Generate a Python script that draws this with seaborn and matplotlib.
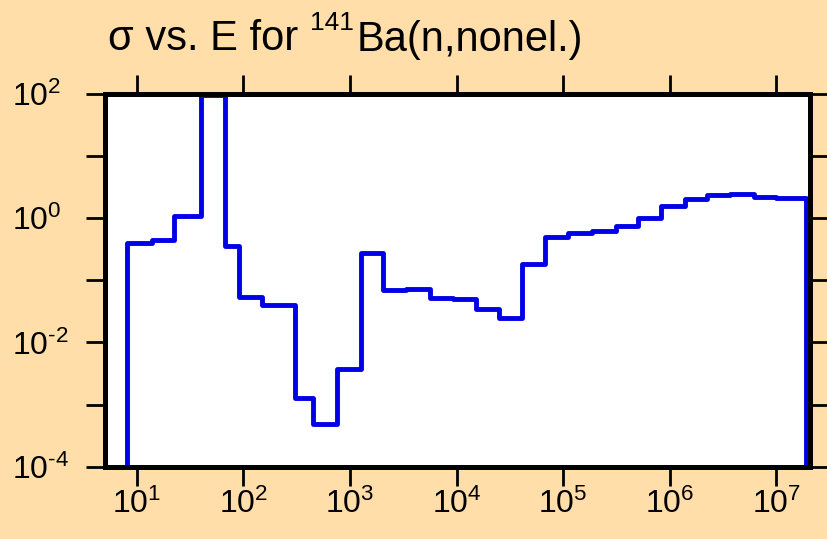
import numpy as np
import pandas as pd
import seaborn as sns
import matplotlib.pyplot as plt
from matplotlib.ticker import FixedLocator, NullLocator, FuncFormatter, NullFormatter

sns.set_style("ticks")
plt.rcParams['font.family'] = ['Liberation Sans', 'DejaVu Sans']
plt.rcParams['mathtext.fontset'] = 'custom'
plt.rcParams['mathtext.rm'] = 'Liberation Sans'
plt.rcParams['mathtext.it'] = 'Liberation Sans:italic'
plt.rcParams['mathtext.bf'] = 'Liberation Sans:bold'
plt.rcParams['text.color'] = 'black'

# group boundaries (eV) and cross sections (b)
edges = [8.2, 13.8, 22.6, 40.5, 68, 92, 149, 306, 454, 760, 1260, 2050, 3390,
         5600, 9200, 15200, 25000, 41000, 67800, 112000, 186000, 310000,
         505000, 830000, 1.38e6, 2.25e6, 3.7e6, 6.2e6, 1.0e7, 1.9e7]
sigma = [0.40, 0.45, 1.07, 95, 0.36, 0.054, 0.040, 1.28e-3, 4.8e-4, 3.7e-3,
         0.27, 0.071, 0.073, 0.052, 0.050, 0.035, 0.0245, 0.185, 0.50, 0.57,
         0.63, 0.76, 1.0, 1.55, 2.05, 2.38, 2.40, 2.2, 2.1]
floor = 1e-6  # stands for zero below the plot

x_ticks = [1e1, 1e2, 1e3, 1e4, 1e5, 1e6, 1e7]
y_major = [1e-4, 1e-2, 1e0, 1e2]
y_minor = [1e-3, 1e-1, 1e1]

data = pd.DataFrame({'E': [edges[0]] + edges,
                     'sigma': [floor] + sigma + [floor]})


def pow10(v, pos):
    e = int(round(np.log10(v)))
    ex = '\\text{-}%d' % -e if e < 0 else '%d' % e
    return '$\\mathregular{10^{%s}}$' % ex


bg = '#FFDEAA'
fig = plt.figure(figsize=(8.27, 5.39), dpi=100, facecolor=bg)
ax = fig.add_axes([0.127, 0.134, 0.852, 0.692])
ax.set_facecolor('white')
ax.set(xscale='log', yscale='log')

sns.lineplot(ax=ax, data=data, x='E', y='sigma', estimator=None, sort=False,
             drawstyle='steps-post', color='#0000E6', linewidth=3.5)

ax.set_xlim(5.05, 2.05e7)
ax.set_ylim(1e-4, 1e2)
ax.set_xlabel('')
ax.set_ylabel('')

ax.xaxis.set_major_locator(FixedLocator(x_ticks))
ax.xaxis.set_minor_locator(NullLocator())
ax.xaxis.set_major_formatter(FuncFormatter(pow10))
ax.yaxis.set_major_locator(FixedLocator(y_major))
ax.yaxis.set_minor_locator(FixedLocator(y_minor))
ax.yaxis.set_major_formatter(FuncFormatter(pow10))
ax.yaxis.set_minor_formatter(NullFormatter())

for s in ax.spines.values():
    s.set_linewidth(3.6)
    s.set_color('black')

ax.tick_params(which='both', direction='out', length=14, width=2, color='black',
               top=True, right=True, labelsize=23, labelcolor='black')
ax.tick_params(axis='x', pad=2)
ax.tick_params(axis='y', pad=53)
plt.setp(ax.get_yticklabels(), ha='left')

# title in three pieces so the mass number can be sized like the original
renderer = fig.canvas.get_renderer()
y0 = 1 - 50.5 / 539
t1 = fig.text(0.131, y0, 'σ vs. E for ', fontsize=30, va='baseline', ha='left',
              color='black')
x1 = fig.transFigure.inverted().transform(t1.get_window_extent(renderer))[1, 0]
t2 = fig.text(x1, y0 + 20 / 539, '141', fontsize=19, va='baseline', ha='left',
              color='black')
x2 = fig.transFigure.inverted().transform(t2.get_window_extent(renderer))[1, 0]
fig.text(x2 + 0.003, y0, 'Ba(n,nonel.)', fontsize=30, va='baseline', ha='left',
         color='black')

fig.savefig('out.png', dpi=100, facecolor=bg)
